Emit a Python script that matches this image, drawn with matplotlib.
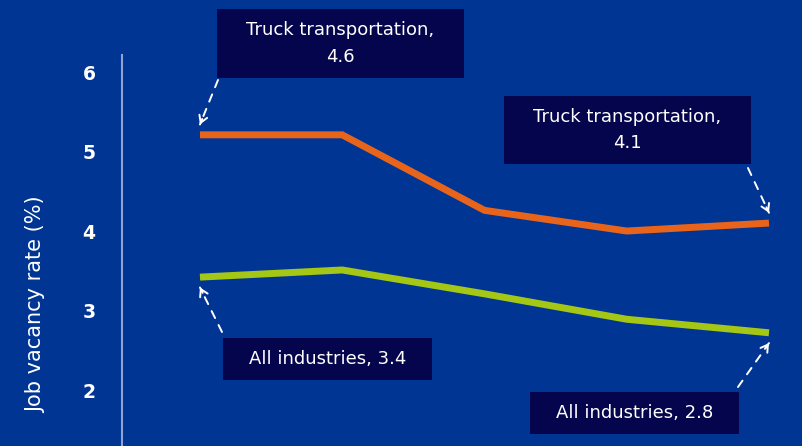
import matplotlib
matplotlib.use("Agg")
import matplotlib.pyplot as plt
from matplotlib.patches import Rectangle

# data
periods = [0, 1, 2, 3, 4]
truck_rate = [5.21, 5.21, 4.26, 4.00, 4.10]
all_rate = [3.42, 3.51, 3.21, 2.89, 2.72]
y_ticks = [2, 3, 4, 5, 6]
y_label = "Job vacancy rate (%)"
notes = ["Truck transportation,\n4.6", "Truck transportation,\n4.1",
         "All industries, 3.4", "All industries, 2.8"]

BG = "#003594"
ORANGE = "#E8641B"
GREEN = "#A4C615"
BOX = "#05054D"
AXIS = "#8FA3D0"

plt.rcParams['font.family'] = ['DejaVu Sans']

W, H = 802, 446
fig = plt.figure(figsize=(W / 100, H / 100), dpi=100)
fig.patch.set_facecolor(BG)

def px(x, y):
    # figure pixel (from top-left) -> figure fraction
    return (x / W, 1 - y / H)

ax = fig.add_axes([122 / W, 0, 1 - 122 / W, 391 / H])
ax.set_facecolor(BG)
ax.set_xlim(-0.548, 4.232)
ax.set_ylim(1.296, 6.214)

ax.plot(periods, truck_rate, color=ORANGE, lw=5, solid_capstyle='butt', solid_joinstyle='miter')
ax.plot(periods, all_rate, color=GREEN, lw=5, solid_capstyle='butt', solid_joinstyle='miter')

for side in ['top', 'right', 'bottom']:
    ax.spines[side].set_visible(False)
ax.spines['left'].set_color(AXIS)
ax.spines['left'].set_linewidth(1.5)
ax.set_xticks([])
ax.set_yticks(y_ticks)
ax.tick_params(axis='y', length=0, pad=19, labelsize=13.5, labelcolor='white')
for lab in ax.get_yticklabels():
    lab.set_fontweight('bold')

# y label sits lower than the axes centre in the original
fig.text(*px(36, 305), y_label, color='white', fontsize=15, rotation=90,
         ha='center', va='center')

# annotation boxes (figure pixels: left, top, right, bottom)
boxes = [(217, 9, 464, 78), (504, 96, 751, 164), (223, 338, 432, 380), (530, 392, 739, 434)]
for (x0, y0, x1, y1), txt in zip(boxes, notes):
    fx, fy = px(x0, y1)
    fig.add_artist(Rectangle((fx, fy), (x1 - x0) / W, (y1 - y0) / H,
                             transform=fig.transFigure, facecolor=BOX, edgecolor='none'))
    cx, cy = px((x0 + x1) / 2, (y0 + y1) / 2)
    fig.text(cx, cy, txt, color='white', fontsize=13,
             ha='center', va='center', linespacing=1.6)

# dashed arrows: start (figure px) -> end point near a data value
arrows = [((218, 80), (0, truck_rate[0] + 0.13)),
          ((748, 168), (4, truck_rate[4] + 0.13)),
          ((222, 332), (0, all_rate[0] - 0.13)),
          ((738, 387), (4, all_rate[4] - 0.13))]
for (sx, sy), (ix, val) in arrows:
    ax.annotate("", xy=(ix, val), xycoords='data', xytext=px(sx, sy), textcoords='figure fraction',
                arrowprops=dict(arrowstyle='-', color='white', lw=1.4, linestyle=(0, (4, 4)),
                                shrinkA=0, shrinkB=0))
    # solid head only: short arrow at the tip
    tip = ax.transData.transform((ix, val))
    start = fig.transFigure.transform(px(sx, sy))
    d = start - tip
    d = d / (d ** 2).sum() ** 0.5 * 6
    ax.annotate("", xy=tip, xycoords='figure pixels', xytext=tip + d, textcoords='figure pixels',
                arrowprops=dict(arrowstyle='->,head_length=0.5,head_width=0.3', color='white', lw=1.4,
                                shrinkA=0, shrinkB=0))

fig.savefig("out.png", dpi=100, facecolor=BG)
